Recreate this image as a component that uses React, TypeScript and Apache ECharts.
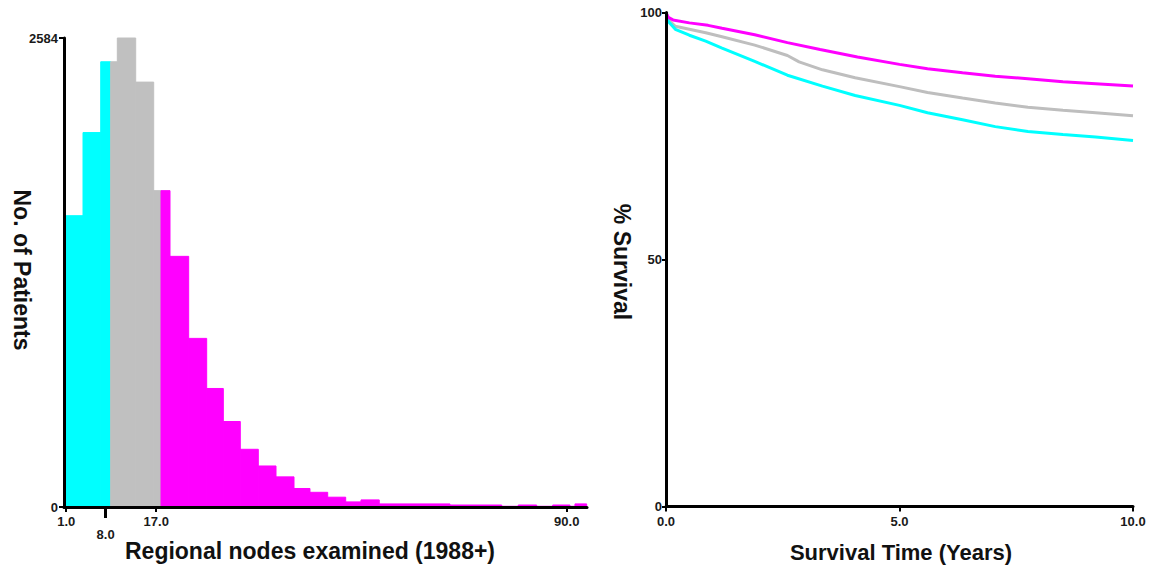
import React, { useEffect, useRef } from "react";
import * as echarts from "echarts";

// Histogram bins: [start, end] in nodes examined, patient counts, group (0 cyan, 1 gray, 2 magenta)
const binStarts = [0.78, 3.98, 7.13, 8.9, 10.08, 13.35, 16.55, 17.85, 19.45, 22.77, 25.97, 28.93, 31.95, 35.15, 38.3, 41.5, 44.34, 47.49, 50.69, 53.41, 56.66, 69.23, 78.43, 81.38, 84.65, 87.5, 90.57, 91.46];
const binEnds = [3.98, 7.13, 8.9, 10.08, 13.35, 16.55, 17.85, 19.45, 22.77, 25.97, 28.93, 31.95, 35.15, 38.3, 41.5, 44.34, 47.49, 50.69, 53.41, 56.66, 69.23, 78.43, 81.38, 84.65, 87.5, 90.57, 91.46, 93.54];
const binCounts = [1605, 2063, 2453, 2453, 2584, 2341, 1743, 1743, 1381, 929, 653, 471, 318, 226, 166, 102, 81, 54, 28, 39, 17, 11, 4, 11, 4, 11, 4, 17];
const binGroups = [0, 0, 0, 1, 1, 1, 1, 2, 2, 2, 2, 2, 2, 2, 2, 2, 2, 2, 2, 2, 2, 2, 2, 2, 2, 2, 2, 2];
const groupColors = ["#00FFFF", "#C0C0C0", "#FF00FF"];

const histYTicks = [0, 2584];
const histXTickValues = [1, 17, 90];
const histXLowTickValues = [8];

// Survival curves (years, % survival)
const magentaT = [0, 0.05, 0.15, 0.5, 0.9, 1.2, 1.9, 2.6, 3.3, 4.1, 5.0, 5.6, 6.35, 7.05, 7.75, 8.5, 9.2, 10];
const magentaS = [100, 99.0, 98.5, 97.9, 97.4, 96.8, 95.5, 93.9, 92.5, 91.0, 89.5, 88.6, 87.8, 87.1, 86.6, 86.0, 85.6, 85.1];
const grayT = [0, 0.05, 0.2, 0.5, 0.85, 1.2, 1.9, 2.6, 2.85, 3.35, 4.05, 5.0, 5.6, 6.35, 7.05, 7.75, 8.5, 9.2, 10];
const grayS = [100, 98.5, 97.2, 96.6, 95.9, 95.1, 93.4, 91.3, 90.0, 88.4, 86.8, 85.0, 83.8, 82.7, 81.7, 80.8, 80.2, 79.7, 79.1];
const cyanT = [0, 0.05, 0.2, 0.5, 0.85, 1.2, 1.9, 2.6, 3.35, 4.05, 5.0, 5.6, 6.35, 7.05, 7.75, 8.5, 9.2, 10];
const cyanS = [100, 98.2, 96.6, 95.4, 94.2, 92.8, 90.1, 87.3, 85.1, 83.2, 81.2, 79.7, 78.3, 76.9, 75.9, 75.3, 74.8, 74.1];

const FONT = 'Arial, "Liberation Sans", sans-serif';
const TICK_LABEL = { color: "#1a1a1a", fontSize: 13, fontWeight: "bold" as const, fontFamily: FONT };
const AXIS_LINE = { show: true, lineStyle: { color: "#000", width: 3 } };

export default function App() {
  const ref = useRef<HTMLDivElement>(null);
  useEffect(() => {
    if (!ref.current) return;
    const chart = echarts.init(ref.current, null, { renderer: "svg" });
    const histData = binStarts.map((s, i) => [s, binEnds[i], binCounts[i], binGroups[i]]);
    const zip = (t: number[], s: number[]) => t.map((x, i) => [x, s[i]]);

    const option: any = {
      animation: false,
      backgroundColor: "#fff",
      grid: [
        { left: 64, top: 38, width: 523, height: 469 },
        { left: 666, top: 12.5, width: 467, height: 494 },
      ],
      xAxis: [
        {
          gridIndex: 0, type: "value", min: 0.6, max: 93.6, position: "bottom", offset: 0, z: 10,
          axisLine: AXIS_LINE,
          axisTick: { show: true, customValues: histXTickValues, length: 5, lineStyle: { color: "#000", width: 2 } },
          axisLabel: { ...TICK_LABEL, customValues: histXTickValues, margin: 8, formatter: (v: number) => v.toFixed(1) },
          splitLine: { show: false },
        },
        {
          gridIndex: 0, type: "value", min: 0.6, max: 93.6, position: "bottom", offset: 0, z: 10,
          axisLine: { show: false },
          axisTick: { show: true, customValues: histXLowTickValues, length: 11, lineStyle: { color: "#000", width: 3 } },
          axisLabel: { ...TICK_LABEL, customValues: histXLowTickValues, margin: 21, formatter: (v: number) => v.toFixed(1) },
          splitLine: { show: false },
        },
        {
          gridIndex: 1, type: "value", min: 0, max: 10, interval: 5, z: 10,
          axisLine: AXIS_LINE,
          axisTick: { show: true, length: 5, lineStyle: { color: "#000", width: 2 } },
          axisLabel: { ...TICK_LABEL, margin: 8, formatter: (v: number) => v.toFixed(1) },
          splitLine: { show: false },
        },
      ],
      yAxis: [
        {
          gridIndex: 0, type: "value", min: 0, max: 2584, interval: 2584, z: 10,
          axisLine: AXIS_LINE,
          axisTick: { show: true, length: 5, lineStyle: { color: "#000", width: 2 } },
          axisLabel: { ...TICK_LABEL, margin: 6, customValues: histYTicks, formatter: (v: number) => String(v) },
          splitLine: { show: false },
        },
        {
          gridIndex: 1, type: "value", min: 0, max: 100, interval: 50, z: 10,
          axisLine: AXIS_LINE,
          axisTick: { show: true, length: 4, lineStyle: { color: "#000", width: 2 } },
          axisLabel: { ...TICK_LABEL, margin: 4, formatter: (v: number) => String(v) },
          splitLine: { show: false },
        },
      ],
      series: [
        {
          type: "custom",
          xAxisIndex: 0,
          yAxisIndex: 0,
          data: histData,
          encode: { x: [0, 1], y: 2 },
          renderItem: (params: any, api: any) => {
            const p0 = api.coord([api.value(0), api.value(2)]);
            const p1 = api.coord([api.value(1), 0]);
            const c = groupColors[api.value(3)];
            return {
              type: "rect",
              shape: { x: p0[0], y: p0[1], width: p1[0] - p0[0], height: p1[1] - p0[1] },
              style: { fill: c, stroke: c, lineWidth: 1 },
            };
          },
        },
        {
          type: "line", xAxisIndex: 2, yAxisIndex: 1, data: zip(grayT, grayS),
          showSymbol: false, symbol: "none", lineStyle: { color: "#BEBEBE", width: 3 },
        },
        {
          type: "line", xAxisIndex: 2, yAxisIndex: 1, data: zip(cyanT, cyanS),
          showSymbol: false, symbol: "none", lineStyle: { color: "#00FFFF", width: 3 },
        },
        {
          type: "line", xAxisIndex: 2, yAxisIndex: 1, data: zip(magentaT, magentaS),
          showSymbol: false, symbol: "none", lineStyle: { color: "#FF00FF", width: 3 },
        },
      ],
      graphic: [
        {
          type: "text", x: 22, y: 270, rotation: -Math.PI / 2,
          style: { text: "No. of Patients", fill: "#111", font: `bold 23px ${FONT}`, textAlign: "center", textVerticalAlign: "middle" },
        },
        {
          type: "text", x: 310, y: 551,
          style: { text: "Regional nodes examined (1988+)", fill: "#111", font: `bold 23px ${FONT}`, textAlign: "center", textVerticalAlign: "middle" },
        },
        {
          type: "text", x: 622, y: 262, rotation: -Math.PI / 2,
          style: { text: "% Survival", fill: "#111", font: `bold 23px ${FONT}`, textAlign: "center", textVerticalAlign: "middle" },
        },
        {
          type: "text", x: 901, y: 552,
          style: { text: "Survival Time (Years)", fill: "#111", font: `bold 22px ${FONT}`, textAlign: "center", textVerticalAlign: "middle" },
        },
      ],
    };
    chart.setOption(option);
    return () => chart.dispose();
  }, []);
  return (
    <div
      ref={ref}
      style={{ position: "absolute", left: 0, top: 0, width: 1151, height: 569, background: "#fff" }}
    />
  );
}
